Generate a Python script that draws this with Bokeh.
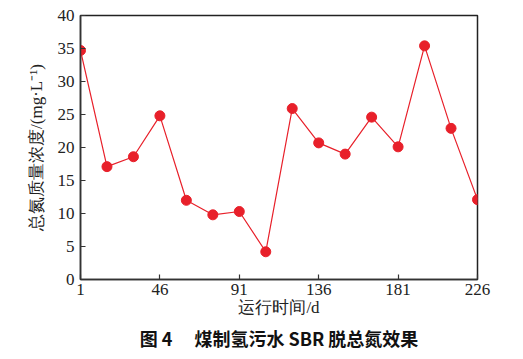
from bokeh.plotting import figure
from bokeh.models import Range1d, FixedTicker, Title, ColumnDataSource
from bokeh.embed import file_html
from bokeh.resources import INLINE

days = [1, 16, 31, 46, 61, 76, 91, 106, 121, 136, 151, 166, 181, 196, 211, 226]
tn = [34.7, 17.1, 18.6, 24.8, 12.0, 9.8, 10.3, 4.2, 25.9, 20.7, 19.0, 24.6, 20.1, 35.4, 22.9, 12.1]
x_ticks = [1, 46, 91, 136, 181, 226]
y_ticks = [0, 5, 10, 15, 20, 25, 30, 35, 40]

RED = "#e8202a"
SERIF = "Liberation Serif"

p = figure(width=507, height=351, output_backend="svg", toolbar_location=None,
           x_range=Range1d(1, 226), y_range=Range1d(0, 40),
           min_border_left=80, min_border_right=30, min_border_top=15, min_border_bottom=10)
p.frame_width = 397
p.frame_height = 264

src = ColumnDataSource(dict(x=days, y=tn))
p.line("x", "y", source=src, line_color=RED, line_width=1.2)
p.scatter("x", "y", source=src, size=10, fill_color=RED, line_color=RED)

p.grid.visible = False
p.outline_line_color = "#222222"
p.outline_line_width = 1.5

for ax in (p.xaxis[0], p.yaxis[0]):
    ax.axis_line_color = "#333333"
    ax.axis_line_width = 1.5
    ax.major_tick_in = 5
    ax.major_tick_out = 0
    ax.major_tick_line_color = "#333333"
    ax.major_tick_line_width = 1.2
    ax.minor_tick_line_color = None
    ax.major_label_text_font = SERIF
    ax.major_label_text_font_size = "17px"
    ax.major_label_text_color = "#222222"
    ax.axis_label_text_font = SERIF
    ax.axis_label_text_font_size = "17px"
    ax.axis_label_text_font_style = "normal"
    ax.axis_label_text_color = "#222222"

p.xaxis.ticker = FixedTicker(ticks=x_ticks)
p.yaxis.ticker = FixedTicker(ticks=y_ticks)
p.xaxis.major_label_standoff = 4
p.yaxis.major_label_standoff = 6
p.xaxis.axis_label = "运行时间/d"
p.xaxis.axis_label_standoff = 0
p.yaxis.axis_label = "总氮质量浓度/(mg·L⁻¹)"
p.yaxis.axis_label_standoff = 9

cap = Title(text="图 4　 煤制氢污水 SBR 脱总氮效果", align="center",
            text_font="Noto Sans CJK SC", text_font_size="18px",
            text_font_style="bold", text_color="#111111", standoff=6)
p.add_layout(cap, "below")

open("out.html", "w").write(file_html(p, INLINE))
